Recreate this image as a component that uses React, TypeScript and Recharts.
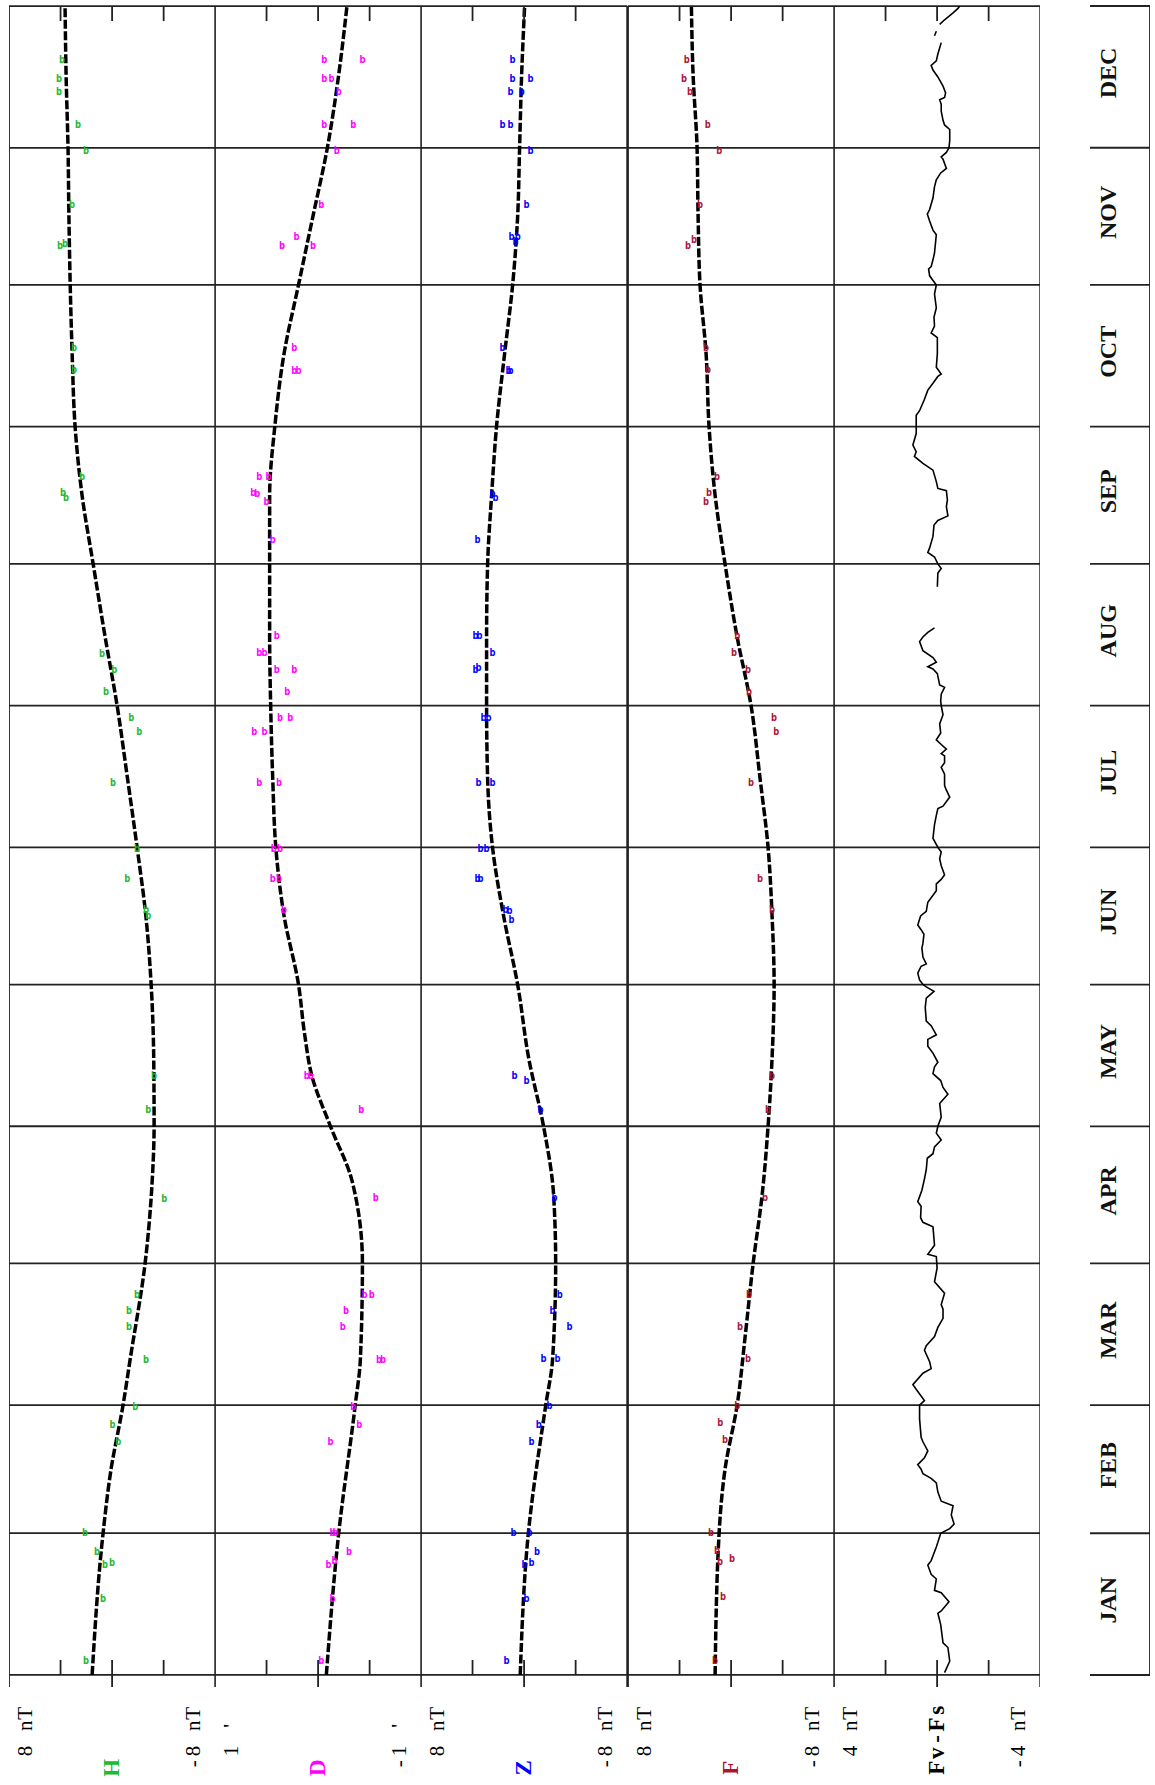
import React from 'react';
import { ComposedChart, Line, Scatter, XAxis, YAxis, ReferenceLine } from 'recharts';

const MONTHS = ['JAN', 'FEB', 'MAR', 'APR', 'MAY', 'JUN', 'JUL', 'AUG', 'SEP', 'OCT', 'NOV', 'DEC'];
const MONTH_DAYS = [31, 28, 31, 30, 31, 30, 31, 31, 30, 31, 30, 31];

// [day of year, value] — smooth baselines
const hTrend = [[0, 1.55], [31, 0.7], [45, 0.08], [59, -0.85], [69, -1.4], [90, -2.56], [108, -3.11], [120, -3.26], [135, -3.23], [151, -3.03], [166, -2.62], [181, -1.94], [196, -1.2], [212, -0.39], [227, 0.54], [243, 1.47], [258, 2.33], [273, 2.87], [289, 3.1], [304, 3.25], [319, 3.35], [334, 3.42], [350, 3.57], [365, 3.65]];
const dTrend = [[0, -0.08], [31, -0.2], [59, -0.36], [69, -0.41], [90, -0.43], [108, -0.33], [120, -0.12], [131, 0.06], [140, 0.13], [151, 0.19], [166, 0.33], [181, 0.41], [196, 0.44], [212, 0.46], [227, 0.47], [243, 0.47], [258, 0.47], [273, 0.42], [289, 0.33], [304, 0.19], [319, 0.05], [334, -0.09], [350, -0.2], [365, -0.28]];
const zTrend = [[0, 0.3], [31, -0.33], [59, -1.68], [69, -2.21], [90, -2.45], [105, -2.29], [120, -1.51], [135, -0.35], [151, 0.5], [166, 1.59], [181, 2.45], [196, 2.83], [212, 2.91], [227, 2.91], [243, 2.83], [258, 2.52], [273, 2.14], [289, 1.51], [304, 0.89], [319, 0.5], [334, 0.35], [350, 0.19], [365, -0.04]];
const fTrend = [[0, 1.24], [31, 0.93], [45, 0.47], [59, -0.47], [74, -1.09], [90, -1.71], [105, -2.41], [120, -2.87], [135, -3.18], [151, -3.34], [166, -3.18], [181, -2.87], [196, -2.25], [212, -1.55], [227, -0.47], [243, 0.47], [258, 1.24], [273, 1.71], [289, 1.94], [304, 2.41], [319, 2.56], [334, 2.64], [350, 2.95], [365, 3.08]];

// [day of year, value] — individual "b" observations
const hMarks = [[3.1, 2.02], [16.8, 0.7], [24.1, 0.54], [24.7, 0], [26.9, 1.17], [31.1, 2.1], [51, -0.47], [54.7, -0.04], [58.8, -1.79], [68.9, -2.64], [76.1, -1.32], [79.8, -1.32], [83.1, -1.94], [104.1, -4.04], [123.6, -2.8], [131.2, -3.26], [166, -2.8], [167.3, -2.64], [174.1, -1.17], [180.8, -1.94], [195.1, -0.08], [206.4, -2.1], [209.5, -1.48], [215, 0.47], [220, -0.16], [223.3, 0.78], [257.6, 3.57], [258.7, 3.81], [262.2, 2.33], [285.4, 2.95], [290.4, 2.95], [312.7, 4.04], [313.1, 3.65], [321.5, 3.11], [333.3, 2.02], [339.2, 2.64], [346.4, 4.12], [349.2, 4.12], [353.4, 3.88]];
const dMarks = [[3.1, -0.03], [16.8, -0.14], [24.1, -0.1], [25.1, -0.16], [26.9, -0.3], [31.1, -0.14], [31.1, -0.17], [51, -0.12], [54.7, -0.4], [58.8, -0.34], [68.9, -0.59], [68.9, -0.63], [76.1, -0.24], [79.8, -0.27], [83.1, -0.45], [83.1, -0.52], [104.5, -0.56], [123.6, -0.42], [131.2, 0.11], [131.2, 0.07], [167.3, 0.33], [174.1, 0.44], [174.1, 0.38], [180.8, 0.43], [180.8, 0.37], [195.1, 0.57], [195.1, 0.38], [206.4, 0.62], [206.4, 0.52], [209.5, 0.37], [209.5, 0.27], [215, 0.3], [220, 0.23], [220, 0.4], [223.7, 0.57], [223.7, 0.52], [227.4, 0.4], [248.4, 0.44], [256.7, 0.5], [258.3, 0.59], [258.7, 0.63], [262.2, 0.57], [262.2, 0.48], [285.4, 0.23], [285.4, 0.19], [290.4, 0.23], [312.7, 0.35], [314.5, 0.21], [312.7, 0.05], [321.5, -0.03], [333.3, -0.18], [339.2, -0.06], [339.2, -0.34], [346.4, -0.2], [349.2, -0.06], [349.2, -0.13], [353.4, -0.06], [353.4, -0.43]];
const zMarks = [[3.1, 1.36], [16.8, -0.19], [24.1, -0.04], [24.7, -0.58], [26.9, -1.01], [31.1, 0.82], [31.1, -0.43], [51, -0.58], [54.7, -1.13], [59, -1.98], [69.3, -1.51], [69.3, -2.6], [76.3, -3.53], [79.8, -2.21], [83.1, -2.76], [104.5, -2.37], [123.6, -1.28], [129.9, -0.19], [131.2, 0.74], [165.3, 0.97], [167.3, 1.44], [167.3, 1.13], [174.1, 3.61], [174.1, 3.38], [180.8, 3.38], [180.8, 2.91], [195.1, 3.53], [195.1, 2.45], [209.5, 3.15], [209.5, 2.76], [220, 3.77], [220.4, 3.53], [223.7, 2.45], [227.4, 3.77], [227.4, 3.46], [248.4, 3.61], [257.6, 2.21], [258.3, 2.45], [285.4, 1.2], [285.4, 1.05], [290.4, 1.67], [313.4, 0.66], [314.5, 0.97], [314.5, 0.5], [321.5, -0.19], [333.3, -0.5], [339.2, 1.67], [339.2, 1.05], [346.4, 1.05], [346.4, 0.19], [349.2, 0.89], [349.2, -0.5], [353.4, 0.89]];
const fMarks = [[3.1, 1.24], [17.1, 0.62], [24.9, 0.85], [25.4, -0.08], [27.3, 1.09], [31.1, 1.55], [51.4, 0.47], [55.3, 0.85], [59, -0.47], [69.3, -1.32], [76.3, -0.7], [83.1, -1.4], [104.5, -2.64], [123.6, -2.87], [131.2, -3.18], [167.3, -3.18], [174.1, -2.25], [195.1, -1.55], [206.4, -3.5], [209.5, -3.34], [215, -1.4], [220, -1.32], [223.7, -0.23], [227.4, -0.47], [256.7, 1.94], [258.7, 1.71], [262.2, 1.09], [285.4, 1.79], [290.4, 1.94], [312.7, 3.34], [314, 2.87], [321.5, 2.41], [333.3, 0.91], [339.2, 1.81], [346.4, 3.18], [349.2, 3.65], [353.4, 3.44]];

// Fv-Fs difference, null = missing data
const fvDiff = [[0.5, -0.29], [3, -0.49], [6, -0.42], [7, -0.23], [11, -0.14], [13.5, -0.03], [14, -0.16], [16, -0.46], [18, -0.16], [18.5, 0.1], [21, 0.03], [22, 0.23], [24, 0.36], [25, 0.23], [28, 0.03], [29, -0.03], [31, -0.14], [32, -0.49], [33, -0.66], [35, -0.55], [37, -0.62], [38, -0.16], [40, -0.03], [42, 0.03], [43, 0.23], [44, 0.55], [45, 0.62], [46, 0.75], [47.5, 0.49], [49, 0.36], [51, 0.55], [52, 0.62], [56, 0.68], [59, 0.68], [60, 0.49], [62, 0.75], [63.5, 0.94], [66, 0.55], [67, 0.23], [68.5, 0.29], [71, 0.49], [72, 0.42], [74, 0.1], [76, -0.03], [78, -0.23], [80, -0.23], [81, -0.16], [83.5, -0.29], [86, 0.1], [89, 0],
  [91.5, 0.03], [92, 0.36], [94, 0.1], [98, 0.16], [99, 0.55], [100, 0.64], [102.5, 0.62], [103.5, 0.75], [106, 0.59], [108.5, 0.49], [110.5, 0.42], [113, 0.38], [114, 0.16], [115.5, 0.1], [117, -0.16], [118.5, 0.03], [120, -0.03], [122, -0.16], [125, -0.1], [127, -0.42], [128.5, -0.23], [130, -0.14], [131.5, 0.16], [133, 0.1], [134, -0.03], [136, 0.16], [137.5, 0.36], [139, 0.36], [140, 0.03], [142, 0.23], [143, 0.42], [146, 0.46], [148, 0.42], [149.5, 0.12], [150.5, 0.42], [151, 0.55], [152, 0.68], [153.5, 0.75], [155, 0.62], [155.5, 0.42], [157, 0.55], [159, 0.59], [160, 0.55], [162, 0.51], [163, 0.62], [164, 0.75], [166, 0.64], [167, 0.42], [169, 0.36], [170, 0.23], [171.5, 0.03], [173, 0.03], [174, -0.16], [175, -0.29], [177, -0.16], [178.5, -0.1], [180, -0.16], [181, -0.03],
  [183, 0.16], [186, 0.1], [188, 0.03], [189.5, -0.03], [190, -0.23], [192, -0.49], [193.5, -0.36], [194.5, -0.29], [197, -0.29], [198.5, -0.16], [199.5, -0.29], [201, -0.29], [201.5, -0.16], [202.5, -0.36], [203.5, -0.16], [204.5, 0.03], [206, -0.14], [208, -0.1], [210, -0.23], [212, -0.16], [213, -0.14], [214.5, -0.16], [216, -0.29], [216.5, -0.1], [219, -0.01], [220, 0.16], [220.5, 0.36], [221.5, 0.03], [222.5, 0.16], [224, 0.55], [226, 0.68], [227, 0.55], [228, 0.36], [229, 0.1], [233, null], [238, -0.01], [241, -0.03], [242, -0.16], [243, -0.03], [244.5, 0.1], [245.5, 0.36], [246.5, 0.29], [249, 0.16], [251.5, 0.12], [252.5, -0.03], [253.5, -0.42], [255.5, -0.36], [257, -0.4], [259, -0.36], [259.5, -0.03], [261, 0.03], [263.5, 0.16], [265, 0.55], [266.5, 0.88], [267.5, 0.81], [269, 0.94], [271.5, 0.81], [273.5, 0.81],
  [275.5, 0.81], [276.5, 0.68], [279, 0.49], [281, 0.36], [282.5, 0.16], [284, -0.03], [284.5, -0.16], [286, 0.03], [289, -0.01], [292.5, -0.01], [293.5, 0.23], [295, 0.1], [297, 0.12], [299, 0.03], [302, 0.1], [304, 0.03], [306, 0.29], [307.5, 0.33], [308, 0.23], [309.5, 0.16], [311, 0.1], [315, 0.03], [316, 0.16], [318, 0.29], [319.5, 0.38], [320.5, 0.29], [323, 0.16], [325.5, 0.1], [327, 0.03], [328.5, -0.14], [329.5, -0.36], [331.5, -0.23], [332, -0.16], [333, -0.36], [334, -0.46], [335.5, -0.49], [338, -0.49], [339, -0.29], [340, -0.23], [342, -0.16], [343.5, -0.16], [344.5, -0.1], [345, -0.29], [346, -0.33], [347.5, -0.23], [349.5, -0.03], [351, 0.16], [352, 0.23], [353, 0.03], [354.5, -0.03], [357, -0.16], [357.8, null], [358.5, 0.1], [359.5, 0.03], [360.3, null], [361, -0.1], [362, -0.29], [363.5, -0.62], [364.5, -0.81], [365, -0.88]];

const GRID = '#222';
const SERIF = '"Liberation Serif", "DejaVu Serif", serif';

// the chart is laid out sideways (time left→right) and turned -90deg as a whole
const CW = 1785;
const CH = 1155;
const PANEL_TOP = 9;
const PH = 206.2;
// left margin 109 + 1px outer tick axis = plot starts at 110
const MARGIN = { top: 0, right: 6, bottom: 0, left: 109 };

const monthEdges: number[] = [0];
MONTH_DAYS.forEach((n) => monthEdges.push(monthEdges[monthEdges.length - 1] + n));
const monthMids = MONTH_DAYS.map((n, i) => monthEdges[i] + n / 2);

const toPts = (rows: (number | null)[][]) => rows.map(([d, v]) => ({ d, v }));

const PANELS = [
  { name: 'H', color: '#22b830', max: 8, unit: 'nT', trend: hTrend, marks: hMarks },
  { name: 'D', color: '#ff00ff', max: 1, unit: "'", trend: dTrend, marks: dMarks },
  { name: 'Z', color: '#0000ff', max: 8, unit: 'nT', trend: zTrend, marks: zMarks },
  { name: 'F', color: '#b01232', max: 8, unit: 'nT', trend: fTrend, marks: fMarks },
  { name: 'Fv-Fs', color: '#000', max: 4, unit: 'nT', series: fvDiff },
];

// fixed-pitch text: one glyph per cell
const MonoText = ({ x0, y, cell, text, ...rest }: any) => (
  <text y={y} textAnchor="middle" fontFamily={SERIF} {...rest}>
    {text.split('').map((c: string, i: number) =>
      c === ' ' ? null : (
        <tspan key={i} x={x0 + cell * (i + 0.5)}>
          {c}
        </tspan>
      )
    )}
  </text>
);

const NoLabel = () => <g />;

const SideTick = (props: any) => {
  const { y, payload, panel } = props;
  const v = payload.value;
  if (v === 0) {
    return <MonoText x0={10} y={y + 7} cell={14.4} text={panel.name} fill={panel.color} fontWeight="bold" fontSize={23} />;
  }
  const label = `${v > 0 ? ' ' : ''}${v} ${panel.unit}`;
  return <MonoText x0={15} y={v > 0 ? y + 23 : y - 15} cell={12.6} text={label} fill="#000" fontSize={21} />;
};

// upright "b" glyph (counter-rotated against the page turn)
const BMark = (props: any) => {
  const { cx, cy, color } = props;
  if (cx == null || cy == null) return null;
  return (
    <text
      x={cx}
      y={cy}
      transform={`rotate(90 ${cx} ${cy})`}
      textAnchor="middle"
      dominantBaseline="central"
      fontSize={10}
      fontWeight="bold"
      fontFamily="DejaVu Sans Mono"
      fill={color}
    >
      b
    </text>
  );
};

const MonthTick = (props: any) => {
  const { x, payload } = props;
  return (
    <text x={x + 4} y={26} textAnchor="middle" fontFamily={SERIF} fontWeight="bold" fontSize={24} fill="#111">
      {MONTHS[monthMids.indexOf(payload.value)]}
    </text>
  );
};

const tickStyle = { stroke: GRID, strokeWidth: 1.8 };

const Panel = ({ p, index }: any) => (
  <div style={{ position: 'absolute', left: 0, top: PANEL_TOP + index * PH, width: CW, height: PH }}>
    <ComposedChart width={CW} height={PH} margin={MARGIN}>
      <XAxis dataKey="d" type="number" domain={[0, 365]} hide allowDataOverflow />
      <YAxis
        yAxisId="in"
        dataKey="v"
        type="number"
        domain={[-p.max, p.max]}
        ticks={[p.max / 2, 0, -p.max / 2]}
        interval={0}
        mirror
        axisLine={false}
        tick={NoLabel}
        tickSize={15}
        stroke={GRID}
        tickLine={tickStyle}
        allowDataOverflow
      />
      <YAxis
        yAxisId="out"
        type="number"
        domain={[-p.max, p.max]}
        ticks={[p.max, 0, -p.max]}
        interval={0}
        width={1}
        axisLine={false}
        tickSize={12}
        tickMargin={0}
        stroke={GRID}
        tickLine={tickStyle}
        tick={(t: any) => <SideTick {...t} panel={p} />}
        allowDataOverflow
      />
      <YAxis
        yAxisId="end"
        orientation="right"
        type="number"
        domain={[-p.max, p.max]}
        ticks={[p.max / 2, 0, -p.max / 2]}
        interval={0}
        mirror
        axisLine={false}
        tick={NoLabel}
        tickSize={15}
        stroke={GRID}
        tickLine={tickStyle}
        allowDataOverflow
      />
      {monthEdges.map((e) => (
        <ReferenceLine key={e} yAxisId="in" x={e} stroke={GRID} strokeWidth={1.8} />
      ))}
      <ReferenceLine yAxisId="in" y={p.max} stroke={GRID} strokeWidth={1.8} />
      <ReferenceLine yAxisId="in" y={-p.max} stroke={GRID} strokeWidth={1.8} />
      {p.trend && (
        <Line
          yAxisId="in"
          data={toPts(p.trend)}
          dataKey="v"
          type="monotone"
          stroke="#000"
          strokeWidth={3.5}
          strokeDasharray="9 2.5"
          dot={false}
          isAnimationActive={false}
        />
      )}
      {p.marks && (
        <Scatter
          yAxisId="in"
          data={toPts(p.marks)}
          dataKey="v"
          shape={(s: any) => <BMark {...s} color={p.color} />}
          isAnimationActive={false}
        />
      )}
      {p.series && (
        <Line
          yAxisId="in"
          data={toPts(p.series)}
          dataKey="v"
          type="linear"
          stroke="#000"
          strokeWidth={1.6}
          dot={false}
          connectNulls={false}
          isAnimationActive={false}
        />
      )}
    </ComposedChart>
  </div>
);

const MonthBand = () => (
  <div style={{ position: 'absolute', left: 0, top: 1090, width: CW, height: 60 }}>
    <ComposedChart width={CW} height={60} margin={{ ...MARGIN, left: 110 }} data={monthMids.map((d) => ({ d }))}>
      <XAxis
        dataKey="d"
        type="number"
        domain={[0, 365]}
        ticks={monthMids}
        interval={0}
        orientation="top"
        mirror
        axisLine={false}
        tickLine={false}
        tick={MonthTick}
        allowDataOverflow
      />
      <YAxis yAxisId="b" type="number" domain={[0, 1]} hide allowDataOverflow />
      {monthEdges.map((e) => (
        <ReferenceLine key={e} yAxisId="b" x={e} stroke={GRID} strokeWidth={1.8} />
      ))}
      <ReferenceLine yAxisId="b" y={0} stroke={GRID} strokeWidth={1.8} />
    </ComposedChart>
  </div>
);

export default function App() {
  return (
    <div style={{ position: 'absolute', left: 0, top: 0, width: CH, height: CW, background: '#fff', overflow: 'hidden' }}>
      <div
        style={{
          position: 'absolute',
          left: 0,
          top: 0,
          width: CW,
          height: CH,
          transformOrigin: '0 0',
          transform: `translateY(${CW}px) rotate(-90deg)`,
        }}
      >
        {PANELS.map((p, i) => (
          <Panel key={p.name} p={p} index={i} />
        ))}
        <MonthBand />
      </div>
    </div>
  );
}
